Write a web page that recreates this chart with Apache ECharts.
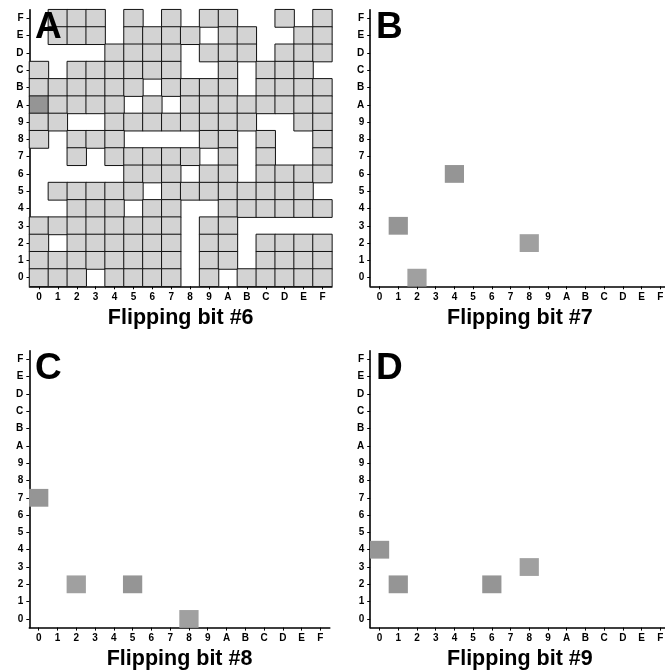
<!DOCTYPE html>
<html>
<head>
<meta charset="utf-8">
<script src="https://cdn.jsdelivr.net/npm/echarts@6/dist/echarts.min.js"></script>
<style>
html,body{margin:0;padding:0;background:#fff;}
#chart{width:665px;height:672px;}
</style>
</head>
<body>
<div id="chart"></div>
<script>
// Hex tick labels (both axes)
const hexLabels = ['0','1','2','3','4','5','6','7','8','9','A','B','C','D','E','F'];

// Panel A matrix: rows from F (top) down to 0; chars by column 0..F
// '0' = empty, '1' = light cell, '2' = dark cell
const panelARows = [
  '0111010101100101', // F
  '0111011110110011', // E
  '0000111101110111', // D
  '1011111100101110', // C
  '1111110111101111', // B
  '2111101011111111', // A
  '1100111111110011', // 9
  '1011100001101001', // 8
  '0010111110101001', // 7
  '0000011101101111', // 6
  '0111110111111110', // 5
  '0011101100111111', // 4
  '1111111101100000', // 3
  '1011111101101111', // 2
  '1111111101101111', // 1
  '1110111101011111'  // 0
];

// Panels B, C, D: [x, y, level]
const panelB = [[1,3,2],[2,0,3],[4,6,2],[8,2,3]];
const panelC = [[0,7,2],[2,2,3],[5,2,2],[8,0,3]];
const panelD = [[0,4,2],[1,2,2],[6,2,2],[8,3,3]];

const axisTitles = ['Flipping bit #6','Flipping bit #7','Flipping bit #8','Flipping bit #9'];
const panelLetters = ['A','B','C','D'];

function matrixToData(rows){
  const out = [];
  rows.forEach((r, i) => {
    const y = 15 - i;
    for (let x = 0; x < r.length; x++) {
      const v = +r[x];
      if (v > 0) out.push([x, y, v]);
    }
  });
  return out;
}

const grids = [
  {left: 29.5, top: 9.7, width: 302.4, height: 276.6},
  {left: 370.2, top: 9.7, width: 299.4, height: 276.6},
  {left: 29.3, top: 350.7, width: 300.5, height: 276.9},
  {left: 370.2, top: 350.7, width: 299.4, height: 276.9}
].map(g => Object.assign(g, {containLabel: false, outerBoundsMode: 'none'}));

const FONT = '"Liberation Sans", Arial, Helvetica, sans-serif';

const xAxes = grids.map((g, i) => ({
  type: 'category', gridIndex: i, data: hexLabels,
  boundaryGap: true,
  axisLine: {show: true, lineStyle: {color: '#000', width: 1.6}},
  axisTick: {show: true, alignWithLabel: true, length: 3, lineStyle: {color: '#000', width: 1}},
  axisLabel: {color: '#000', fontWeight: 'bold', fontSize: 10, fontFamily: FONT, margin: 6, interval: 0},
  splitLine: {show: false},
  name: axisTitles[i], nameLocation: 'middle', nameGap: 20.5,
  nameTextStyle: {color: '#000', fontWeight: 'bold', fontSize: 21.5, fontFamily: FONT}
}));

const yAxes = grids.map((g, i) => ({
  type: 'category', gridIndex: i, data: hexLabels,
  boundaryGap: true,
  axisLine: {show: true, lineStyle: {color: '#000', width: 1.6}},
  axisTick: {show: true, alignWithLabel: true, length: 3, lineStyle: {color: '#000', width: 1}},
  axisLabel: {color: '#000', fontWeight: 'bold', fontSize: 10, fontFamily: FONT, margin: 6, interval: 0},
  splitLine: {show: false}
}));

const seriesData = [matrixToData(panelARows), panelB, panelC, panelD];

const series = seriesData.map((d, i) => ({
  type: 'heatmap', xAxisIndex: i, yAxisIndex: i,
  data: d,
  itemStyle: i === 0 ? {borderColor: '#111', borderWidth: 1} : {borderWidth: 0},
  emphasis: {disabled: true},
  animation: false
}));

const letterPos = [[35, 9], [376, 9], [35, 350], [376, 350]];
const graphics = panelLetters.map((t, i) => ({
  type: 'text', left: letterPos[i][0], top: letterPos[i][1], z: 100,
  style: {text: t, fill: '#000', font: 'bold 37px ' + FONT}
}));

const chart = echarts.init(document.getElementById('chart'), null, {renderer: 'canvas'});
chart.setOption({
  animation: false,
  backgroundColor: '#fff',
  grid: grids,
  xAxis: xAxes,
  yAxis: yAxes,
  visualMap: {
    type: 'piecewise', show: false, dimension: 2,
    pieces: [
      {value: 1, color: '#d3d3d3'},
      {value: 2, color: '#959595'},
      {value: 3, color: '#a0a0a0'}
    ]
  },
  series: series,
  graphic: graphics
});
</script>
</body>
</html>
